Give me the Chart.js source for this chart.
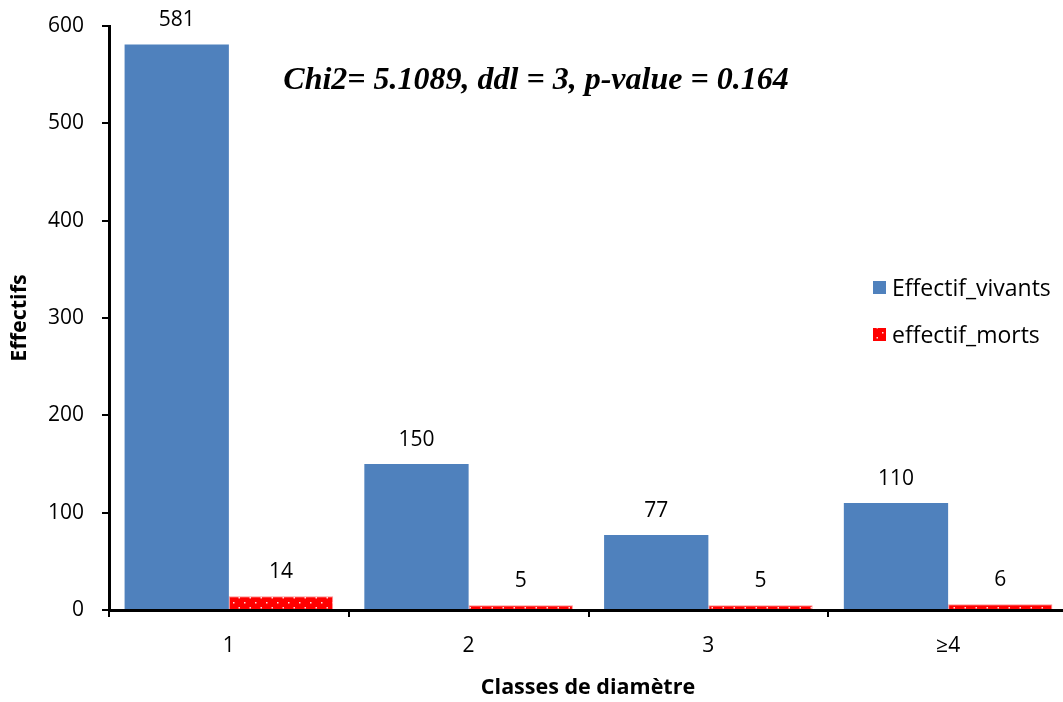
<!DOCTYPE html>
<html>
<head>
<meta charset="utf-8">
<script src="https://cdn.jsdelivr.net/npm/chart.js@4.4.1/dist/chart.umd.min.js"></script>
<style>
  html, body { margin: 0; padding: 0; background: #fff; overflow: hidden; }
  #wrap { width: 1068px; height: 702px; }
</style>
</head>
<body>
<div id="wrap"><canvas id="c" width="1068" height="702"></canvas></div>
<script>
// Diameter classes and counts of living / dead stems
const categories = ['1', '2', '3', '\u22654'];
const vivants = [581, 150, 77, 110];
const morts = [14, 5, 5, 6];
const yTicks = [0, 100, 200, 300, 400, 500, 600];
const statText = 'Chi2= 5.1089, ddl = 3, p-value = 0.164';

const BLUE = '#4F81BD';
const RED = '#FF0000';
const FONT = '"Open Sans", "Noto Sans", sans-serif';

// Red fill with a staggered grid of small white dots
function dotPattern() {
  const p = document.createElement('canvas');
  p.width = 11; p.height = 10;
  const g = p.getContext('2d');
  g.fillStyle = RED;
  g.fillRect(0, 0, 11, 10);
  g.fillStyle = 'rgba(255,235,235,0.95)';
  g.fillRect(2, 2, 1.5, 1.5);
  g.fillRect(7.5, 7, 1.5, 1.5);
  return g.createPattern(p, 'repeat');
}
const ctx0 = document.getElementById('c').getContext('2d');
const redFill = dotPattern();

// Value labels above bars, statistic text, axis titles and legend
const overlay = {
  id: 'overlay',
  afterDatasetsDraw(chart) {
    const ctx = chart.ctx;
    ctx.save();
    ctx.fillStyle = '#000';
    ctx.textAlign = 'center';
    ctx.textBaseline = 'middle';
    ctx.font = '21px ' + FONT;
    chart.data.datasets.forEach((ds, i) => {
      chart.getDatasetMeta(i).data.forEach((bar, j) => {
        ctx.fillText(String(ds.data[j]), bar.x, bar.y - 24);
      });
    });

    // statistic annotation
    ctx.font = 'italic bold 32px "Liberation Serif", "DejaVu Serif", serif';
    ctx.textAlign = 'center';
    ctx.textBaseline = 'alphabetic';
    ctx.fillText(statText, 536, 89);

    // axis titles
    ctx.font = 'bold 21.5px ' + FONT;
    ctx.textBaseline = 'middle';
    ctx.fillText('Classes de diam\u00e8tre', 588, 688);
    ctx.save();
    ctx.translate(20, 318);
    ctx.rotate(-Math.PI / 2);
    ctx.fillText('Effectifs', 0, 0);
    ctx.restore();

    // legend
    ctx.textAlign = 'left';
    ctx.font = '23px ' + FONT;
    const items = [
      { label: 'Effectif_vivants', fill: BLUE, y: 288 },
      { label: 'effectif_morts', fill: redFill, y: 335 }
    ];
    items.forEach(it => {
      ctx.fillStyle = it.fill;
      ctx.fillRect(873, it.y - 7, 13, 13);
      ctx.fillStyle = '#000';
      ctx.fillText(it.label, 892, it.y + 1);
    });
    ctx.restore();
  }
};

new Chart(ctx0, {
  type: 'bar',
  data: {
    labels: categories,
    datasets: [
      {
        label: 'Effectif_vivants',
        data: vivants,
        backgroundColor: BLUE,
        borderWidth: 0,
        barPercentage: 1.0,
        categoryPercentage: 0.87
      },
      {
        label: 'effectif_morts',
        data: morts,
        backgroundColor: redFill,
        borderColor: 'rgba(255,120,120,0.8)',
        borderWidth: 1,
        barPercentage: 1.0,
        categoryPercentage: 0.87
      }
    ]
  },
  options: {
    responsive: false,
    animation: false,
    devicePixelRatio: 1,
    layout: { padding: { top: 26, left: 0, right: 0, bottom: 0 } },
    plugins: {
      legend: { display: false },
      tooltip: { enabled: false },
      title: { display: false }
    },
    scales: {
      x: {
        grid: {
          offset: true,
          drawOnChartArea: false,
          drawTicks: true,
          tickLength: 7,
          color: '#000',
          lineWidth: 2
        },
        border: { display: true, color: '#000', width: 3 },
        ticks: {
          color: '#000',
          font: { size: 21, family: FONT },
          padding: 16
        },
        afterFit(scale) {
          scale.height = 92;
          scale.paddingLeft = 0;
          scale.paddingRight = 0;
        }
      },
      y: {
        min: 0,
        max: 600,
        afterBuildTicks(scale) { scale.ticks = yTicks.map(v => ({ value: v })); },
        grid: {
          drawOnChartArea: false,
          drawTicks: true,
          tickLength: 7,
          color: '#000',
          lineWidth: 2
        },
        border: { display: true, color: '#000', width: 3 },
        ticks: {
          color: '#000',
          font: { size: 21, family: FONT },
          padding: 18
        },
        afterFit(scale) {
          scale.width = 109;
          scale.paddingTop = 0;
          scale.paddingBottom = 0;
        }
      }
    }
  },
  plugins: [overlay]
});
</script>
</body>
</html>
